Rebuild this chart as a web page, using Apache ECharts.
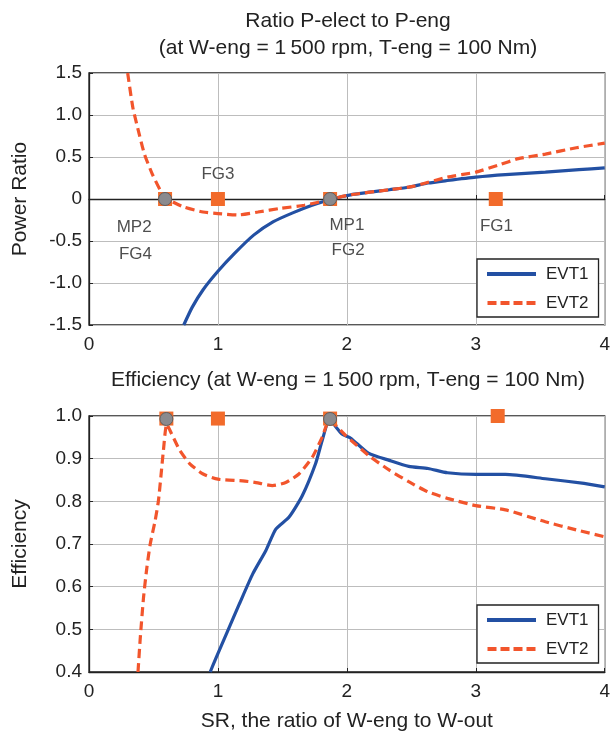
<!DOCTYPE html>
<html>
<head>
<meta charset="utf-8">
<script src="https://cdn.jsdelivr.net/npm/echarts@6/dist/echarts.min.js"></script>
<style>
html,body{margin:0;padding:0;background:#fff;}
#chart{width:613px;height:734px;}
</style>
</head>
<body>
<div id="chart"></div>
<script>
// ---- Data ----
// Top plot: power ratio P-elect / P-eng vs SR
const ratioEvt1X = [0.735,0.80,0.885,1.0,1.127,1.277,1.43,1.58,1.73,1.87,2.03,2.33,2.48,2.63,2.78,3.0,3.23,3.54,3.8,4.0];
const ratioEvt1Y = [-1.5,-1.29,-1.08,-0.86,-0.65,-0.43,-0.27,-0.165,-0.075,-0.005,0.05,0.11,0.14,0.19,0.22,0.26,0.29,0.32,0.35,0.37];
const ratioEvt2X = [0.30,0.34,0.39,0.43,0.49,0.555,0.61,0.735,0.885,1.0,1.157,1.31,1.49,1.67,1.87,2.03,2.33,2.51,2.78,3.0,3.17,3.33,3.54,3.78,4.0];
const ratioEvt2Y = [1.5,1.09,0.77,0.535,0.30,0.10,0.0,-0.095,-0.155,-0.173,-0.19,-0.155,-0.11,-0.075,-0.005,0.05,0.11,0.15,0.26,0.32,0.40,0.48,0.535,0.61,0.665];

// Bottom plot: efficiency vs SR
const effEvt1X = [0.94,0.988,1.065,1.167,1.27,1.372,1.449,1.552,1.654,1.757,1.808,1.865,1.962,2.03,2.167,2.33,2.48,2.63,2.78,3.0,3.23,3.54,3.84,4.0];
const effEvt1Y = [0.4,0.435,0.489,0.56,0.63,0.685,0.735,0.763,0.813,0.888,0.942,0.99,0.958,0.948,0.913,0.896,0.882,0.877,0.867,0.863,0.863,0.853,0.842,0.834];
const effEvt2X = [0.38,0.398,0.423,0.449,0.475,0.513,0.538,0.557,0.577,0.603,0.641,0.705,0.782,0.885,1.0,1.192,1.295,1.423,1.526,1.628,1.731,1.808,1.865,1.988,2.167,2.33,2.48,2.63,2.78,3.0,3.23,3.54,3.78,4.0];
const effEvt2Y = [0.4,0.481,0.575,0.645,0.70,0.755,0.80,0.856,0.919,0.981,0.958,0.919,0.888,0.864,0.852,0.848,0.844,0.837,0.844,0.864,0.903,0.95,0.99,0.955,0.908,0.873,0.846,0.822,0.807,0.79,0.78,0.752,0.733,0.717];

// Operating-point markers
const squareTopX = [0.59,1.0,1.87,3.155];
const squareTopY = [0,0,0,0];
const circleTopX = [0.59,1.87];
const circleTopY = [0,0];
const squareBotX = [0.6,1.0,1.87,3.17];
const squareBotY = [0.994,0.994,0.994,1.0];
const circleBotX = [0.6,1.87];
const circleBotY = [0.993,0.993];

// Mode labels (top plot)
const modeNames = ['MP2','FG4','FG3','MP1','FG2','FG1'];
const modeX = [0.35,0.36,1.0,2.0,2.01,3.16];
const modeY = [-0.34,-0.66,0.29,-0.31,-0.61,-0.33];

// Axis ticks
const xTicks = [0,1,2,3,4];
const seriesNames = ['EVT1','EVT2'];

// ---- Build ----
const zip = (xs, ys) => xs.map((x, i) => [x, ys[i]]);
const FONT = '"Liberation Sans", Arial, Helvetica, sans-serif';
const TXT = '#222';
const BLUE = '#2350a3';
const RED = '#f2552c';
const ORANGE = '#f26b2b';
const GREY = '#8a8a8e';

// legend key shapes: a solid bar and a dashed bar
const ICON_SOLID = 'path://M0,0H49V4H0Z';
const ICON_DASH = 'path://M0,0H9V4H0Z M13,0H22V4H13Z M26,0H35V4H26Z M39,0H48V4H39Z';

function xAxisFor(gridIndex, showName) {
  return {
    type: 'value', gridIndex, min: xTicks[0], max: xTicks[xTicks.length - 1], interval: 1,
    name: showName ? 'SR, the ratio of W-eng to W-out' : '',
    nameLocation: 'middle', nameGap: 39,
    nameTextStyle: { fontFamily: FONT, fontSize: 21, color: TXT },
    axisLine: { show: true, lineStyle: { color: '#222', width: 1.3 } },
    axisTick: { show: true, inside: true, length: 4, lineStyle: { color: '#222' } },
    axisLabel: { fontFamily: FONT, fontSize: 19, color: TXT, margin: 10 },
    splitLine: { show: true, lineStyle: { color: '#bdbdbd', width: 1 } }
  };
}
function yAxisFor(gridIndex, name, min, max, interval, fmt) {
  return {
    type: 'value', gridIndex, min, max, interval,
    name, nameLocation: 'middle', nameGap: 58,
    nameTextStyle: { fontFamily: FONT, fontSize: 21, color: TXT },
    axisLine: { show: true, lineStyle: { color: '#222', width: 1.3 } },
    axisTick: { show: true, inside: true, length: 4, lineStyle: { color: '#222' } },
    axisLabel: { fontFamily: FONT, fontSize: 19, color: TXT, margin: 7, formatter: fmt },
    splitLine: { show: true, lineStyle: { color: '#bdbdbd', width: 1 } }
  };
}
function lineSeries(name, data, xi, color, dashed) {
  return {
    type: 'line', name, xAxisIndex: xi, yAxisIndex: xi, data,
    symbol: 'none', smooth: 0.2, clip: true, z: 3,
    lineStyle: { color, width: 3.2, type: dashed ? [9, 5] : 'solid' },
    itemStyle: { color }
  };
}
function scatterSeries(name, data, xi, symbol, size, color, border) {
  return {
    type: 'scatter', name, xAxisIndex: xi, yAxisIndex: xi, data,
    symbol, symbolSize: size, z: border ? 6 : 5, clip: false,
    itemStyle: { color, opacity: 1, borderColor: border || color, borderWidth: border ? 1 : 0 },
    emphasis: { disabled: true }
  };
}
function legendFor(top) {
  return {
    data: [
      { name: seriesNames[0], icon: ICON_SOLID, itemStyle: { color: BLUE } },
      { name: seriesNames[1], icon: ICON_DASH, itemStyle: { color: RED } }
    ],
    orient: 'vertical', left: 477, top,
    padding: [5, 10, 4, 10], itemWidth: 49, itemHeight: 4, itemGap: 9,
    backgroundColor: '#fff', borderColor: '#222', borderWidth: 1.3, borderRadius: 0,
    textStyle: { fontFamily: FONT, fontSize: 17, color: TXT, lineHeight: 20, padding: [0, 0, 0, 5] },
    selectedMode: false
  };
}

const option = {
  animation: false,
  backgroundColor: '#fff',
  textStyle: { fontFamily: FONT },
  grid: [
    { left: 89, right: 7, top: 73, height: 252, show: true, borderColor: '#222', borderWidth: 1.3, backgroundColor: 'transparent' },
    { left: 89, right: 7, top: 416, height: 256, show: true, borderColor: '#222', borderWidth: 1.3, backgroundColor: 'transparent' }
  ],
  xAxis: [xAxisFor(0, false), xAxisFor(1, true)],
  yAxis: [
    yAxisFor(0, 'Power Ratio', -1.5, 1.5, 0.5, v => (Math.abs(v) < 1e-9 ? '0' : v.toFixed(1))),
    yAxisFor(1, 'Efficiency', 0.4, 1.0, 0.1, v => v.toFixed(1))
  ],
  legend: [legendFor(259), legendFor(605)],
  graphic: [
    { type: 'text', x: 348, y: 8, z: 10, style: { text: 'Ratio P-elect to P-eng\n(at W-eng = 1\u2009500 rpm, T-eng = 100 Nm)', align: 'center', verticalAlign: 'top', lineHeight: 27, font: '21px ' + FONT, fill: TXT } },
    { type: 'text', x: 348, y: 370, z: 10, style: { text: 'Efficiency (at W-eng = 1\u2009500 rpm, T-eng = 100 Nm)', align: 'center', verticalAlign: 'top', font: '21px ' + FONT, fill: TXT } }
  ],
  series: [
    lineSeries('EVT1', zip(ratioEvt1X, ratioEvt1Y), 0, BLUE, false),
    lineSeries('EVT2', zip(ratioEvt2X, ratioEvt2Y), 0, RED, true),
    scatterSeries('FG', zip(squareTopX, squareTopY), 0, 'rect', 14, ORANGE),
    scatterSeries('MP', zip(circleTopX, circleTopY), 0, 'circle', 13, GREY, '#5e5e5e'),
    {
      type: 'scatter', name: 'modes', xAxisIndex: 0, yAxisIndex: 0,
      data: modeNames.map((n, i) => [modeX[i], modeY[i], n]),
      symbolSize: 0, z: 7, silent: true,
      label: { show: true, position: 'inside', formatter: p => p.data[2], fontFamily: FONT, fontSize: 17, color: TXT }
    },
    lineSeries('EVT1', zip(effEvt1X, effEvt1Y), 1, BLUE, false),
    lineSeries('EVT2', zip(effEvt2X, effEvt2Y), 1, RED, true),
    scatterSeries('FG', zip(squareBotX, squareBotY), 1, 'rect', 14, ORANGE),
    scatterSeries('MP', zip(circleBotX, circleBotY), 1, 'circle', 13, GREY, '#5e5e5e')
  ]
};

const chart = echarts.init(document.getElementById('chart'), null, { renderer: 'canvas' });
chart.setOption(option);
</script>
</body>
</html>
